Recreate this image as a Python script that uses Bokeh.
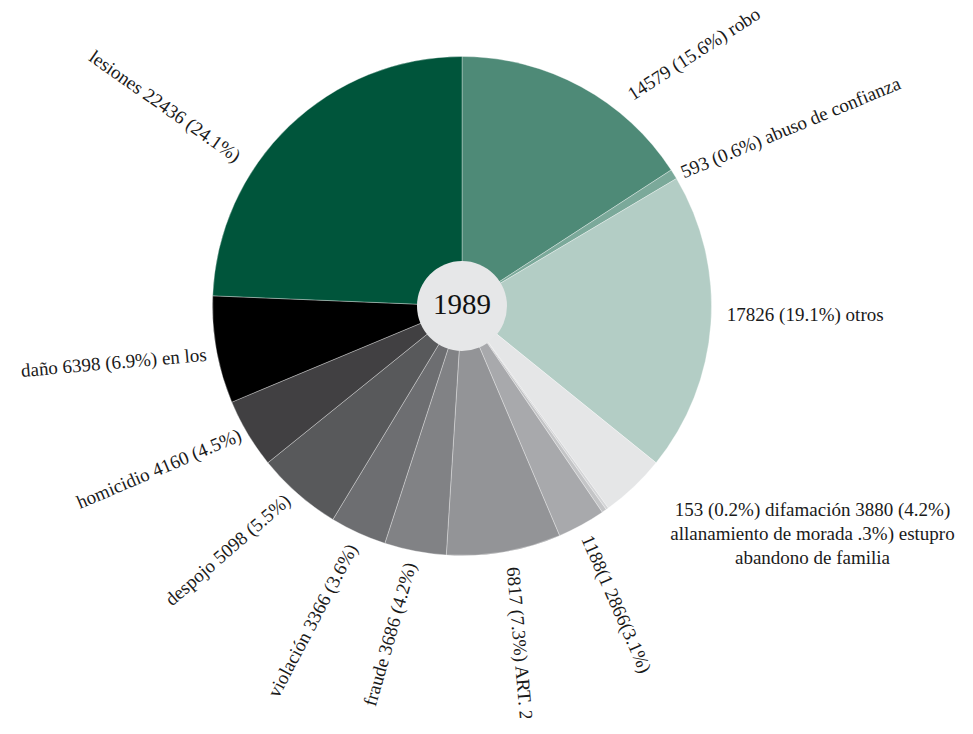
import math
from bokeh.plotting import figure
from bokeh.models import Range1d, ColumnDataSource
from bokeh.core.properties import value
from bokeh.embed import file_html
from bokeh.resources import INLINE

# ---- data (clockwise from 12 o'clock) ----
categories = ["robo", "abuso de confianza", "otros", "difamación",
              "allanamiento de morada", "estupro", "abandono de familia",
              "ART. 200", "fraude", "violación", "despojo", "homicidio",
              "daño en los", "lesiones"]
counts = [14579, 593, 17826, 3880, 153, 279, 2866, 6817, 3686, 3366,
          5098, 4160, 6398, 22436]
colors = ["#4e8a77", "#7ba99a", "#b3cdc5", "#e5e6e7", "#d4d5d7", "#c4c5c7",
          "#a8a9ac", "#939497", "#818285", "#6d6e71", "#58595b", "#414042",
          "#000000", "#00553b"]
year = "1989"

# labels as they appear in the chart
label_texts = ["14579 (15.6%) robo", "593 (0.6%) abuso de confianza",
               "17826 (19.1%) otros", "1188(1 2866(3.1%)",
               "6817 (7.3%) ART. 200", "fraude 3686 (4.2%)",
               "violación 3366 (3.6%)", "despojo 5098 (5.5%)",
               "homicidio 4160 (4.5%)", "daño 6398 (6.9%) en los",
               "lesiones 22436 (24.1%)"]
block_lines = ["153 (0.2%) difamación 3880 (4.2%)",
               "allanamiento de morada .3%) estupro",
               "abandono de familia"]

# ---- layout (polar placement of labels: angle cw from north, radius, text rotation, align) ----
label_pos_deg = [38.5, 58.7, 91.8, 151.5, 168.9, 191.4, 204.6, 222.3, 240.0, 259.3, 303.6]
label_r = [269, 257, 265, 262, 266, 262, 263, 259, 256, 260, 268]
label_rot = [33, 22.5, 0, -66.4, -85, 74, 62, 41, 23, 5, -35]
label_align = ["left", "left", "left", "left", "left", "right", "right", "right", "right", "right", "right"]

W, H = 957, 718
TOP = 734          # data y of the top edge (data y = 734 - screen y)
cx, cy = 461.5, TOP - 305.5
R, r_in = 249.5, 45

p = figure(width=W, height=H, x_range=Range1d(0, W), y_range=Range1d(TOP - H, TOP),
           output_backend="svg", toolbar_location=None, min_border=0)
p.axis.visible = False
p.grid.visible = False
p.outline_line_color = None
p.background_fill_color = "white"
p.border_fill_color = "white"

total = sum(counts)
starts, ends = [], []
acc = 0.0
for c in counts:
    a0 = acc / total * 2 * math.pi
    acc += c
    a1 = acc / total * 2 * math.pi
    starts.append(math.pi / 2 - a1)
    ends.append(math.pi / 2 - a0)

src = ColumnDataSource(dict(start=starts, end=ends, color=colors, name=categories))
p.wedge(x=cx, y=cy, radius=R, start_angle="start", end_angle="end", source=src,
        fill_color="color", line_color="white", line_width=0.6, line_alpha=0.55)

p.circle(x=[cx], y=[cy], radius=r_in, fill_color="#e6e7e8", line_color=None)
p.text(x=[cx], y=[cy + 2], text=[year], text_align="center", text_baseline="middle",
       text_font=value("Liberation Serif"), text_font_size="29px", text_color="#111111")

font = value("Liberation Serif")
fs = "19px"
for align in ("left", "right"):
    xs, ys, ts, angs = [], [], [], []
    for t, d, rr, rot, al in zip(label_texts, label_pos_deg, label_r, label_rot, label_align):
        if al != align:
            continue
        th = math.radians(d)
        xs.append(cx + rr * math.sin(th))
        ys.append(cy + rr * math.cos(th))
        ts.append(t)
        angs.append(math.radians(rot))
    p.text(x=xs, y=ys, text=ts, angle=angs, text_align=align, text_baseline="middle",
           text_font=font, text_font_size=fs, text_color="#1a1a1a")

# block label (three centered lines)
bx, by = 812, TOP - 509
p.text(x=[bx] * 3, y=[by - 24 * i for i in range(3)], text=block_lines,
       text_align="center", text_baseline="middle", text_font=font,
       text_font_size=fs, text_color="#1a1a1a")

open("out.html", "w").write(file_html(p, INLINE))
